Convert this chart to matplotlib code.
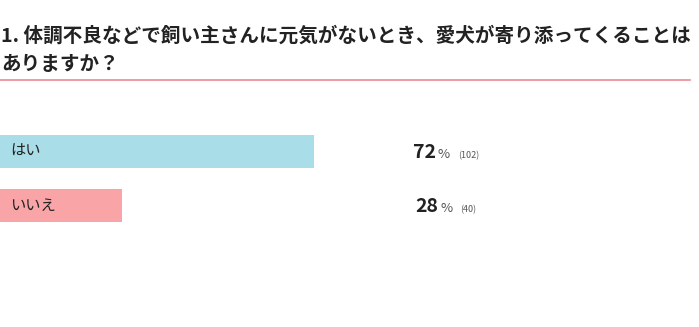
import matplotlib
matplotlib.use("Agg")
import matplotlib.pyplot as plt

plt.rcParams['font.family'] = ['Noto Sans CJK JP', 'DejaVu Sans']

# data
title_lines = ["1. 体調不良などで飼い主さんに元気がないとき、愛犬が寄り添ってくることは", "ありますか？"]
labels = ["はい", "いいえ"]
percents = [72, 28]
counts = [102, 40]
colors = ["#a9dde8", "#f9a4a6"]

W, H = 699, 327
fig = plt.figure(figsize=(W / 100, H / 100), dpi=100)

# title + red rule
fig.text(1 / W, 1 - 36 / H, title_lines[0], fontsize=14.1, fontweight="bold", color="#222222", va="center", ha="left")
fig.text(1 / W, 1 - 64 / H, title_lines[1], fontsize=14.1, fontweight="bold", color="#222222", va="center", ha="left")
fig.add_artist(plt.Line2D([0, 690 / W], [1 - 80 / H, 1 - 80 / H], color="#e98a94", lw=1.2))

# bars: 100% = 436 px, rows 54 px apart
ax = fig.add_axes([0, 0, 1, 1])
ax.set_xlim(0, W / 4.36)
ax.set_ylim((H - 151.5) / 54, -151.5 / 54)
ax.axis("off")
ys = list(range(len(labels)))
ax.barh(ys, percents, height=33 / 54, color=colors, align="center")

for y, lab in zip(ys, labels):
    ax.text(2.3, y, lab, fontsize=11, va="center", ha="left", color="#222222")

fig.canvas.draw()
r = fig.canvas.get_renderer()
for y, p, n in zip(ys, percents, counts):
    yb = y + 6.5 / 54
    t1 = ax.text(0, yb, str(p), fontsize=14, fontweight="bold", va="baseline", color="#222222")
    t2 = ax.text(0, yb, "%", fontsize=9.5, va="baseline", color="#555555")
    t3 = ax.text(0, yb, "(%d)" % n, fontsize=6.5, va="baseline", color="#555555")
    w1 = t1.get_window_extent(r).width
    w2 = t2.get_window_extent(r).width
    w3 = t3.get_window_extent(r).width
    gap1, gap2 = 2, 8
    total = w1 + gap1 + w2 + gap2 + w3
    x0 = 446 - total / 2
    inv = ax.transData.inverted()
    t1.set_x(inv.transform((x0, 0))[0])
    t2.set_x(inv.transform((x0 + w1 + gap1, 0))[0])
    t3.set_x(inv.transform((x0 + w1 + gap1 + w2 + gap2, 0))[0])

fig.savefig("out.png", dpi=100)
